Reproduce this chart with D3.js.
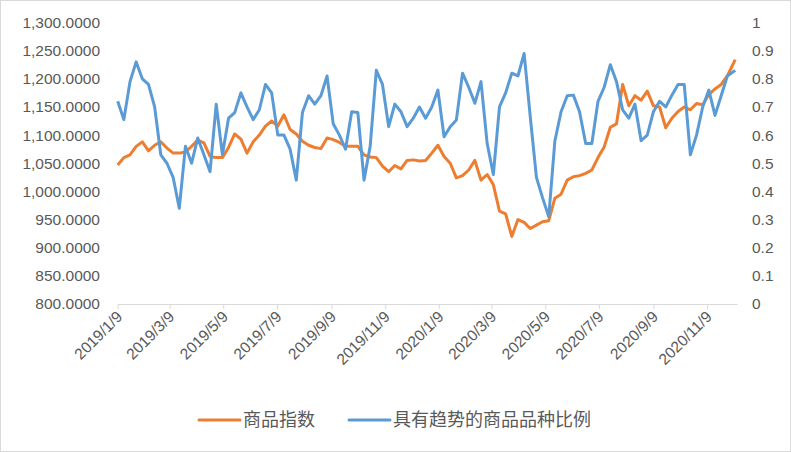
<!DOCTYPE html>
<html>
<head>
<meta charset="utf-8">
<script src="https://cdn.jsdelivr.net/npm/d3@7"></script>
<style>
  html, body { margin: 0; padding: 0; background: #fff; }
  svg { display: block; font-family: "DejaVu Sans", sans-serif; }
</style>
</head>
<body>
<svg width="791" height="452"></svg>
<script>
const width = 791, height = 452;
const svg = d3.select("svg");

// weekly readings
const dates = [
  "2019-01-09","2019-01-16","2019-01-23","2019-01-30","2019-02-06","2019-02-13","2019-02-20","2019-02-27",
  "2019-03-06","2019-03-13","2019-03-20","2019-03-27","2019-04-03","2019-04-10","2019-04-17","2019-04-24",
  "2019-05-01","2019-05-08","2019-05-15","2019-05-22","2019-05-29","2019-06-05","2019-06-12","2019-06-19",
  "2019-06-26","2019-07-03","2019-07-10","2019-07-17","2019-07-24","2019-07-31","2019-08-07","2019-08-14",
  "2019-08-21","2019-08-28","2019-09-04","2019-09-11","2019-09-18","2019-09-25","2019-10-02","2019-10-09",
  "2019-10-16","2019-10-23","2019-10-30","2019-11-06","2019-11-13","2019-11-20","2019-11-27","2019-12-04",
  "2019-12-11","2019-12-18","2019-12-25","2020-01-01","2020-01-08","2020-01-15","2020-01-22","2020-01-29",
  "2020-02-05","2020-02-12","2020-02-19","2020-02-26","2020-03-04","2020-03-11","2020-03-18","2020-03-25",
  "2020-04-01","2020-04-08","2020-04-15","2020-04-22","2020-04-29","2020-05-06","2020-05-13","2020-05-20",
  "2020-05-27","2020-06-03","2020-06-10","2020-06-17","2020-06-24","2020-07-01","2020-07-08","2020-07-15",
  "2020-07-22","2020-07-29","2020-08-05","2020-08-12","2020-08-19","2020-08-26","2020-09-02","2020-09-09",
  "2020-09-16","2020-09-23","2020-09-30","2020-10-07","2020-10-14","2020-10-21","2020-10-28","2020-11-04",
  "2020-11-11","2020-11-18","2020-11-25","2020-12-02","2020-12-11"
];

// 商品指数 (left axis)
const indexValues = [
  1047,1060,1065,1080,1088,1072,1082,1088,1077,1068,1068,1070,1080,1091,1086,1062,
  1060,1060,1078,1102,1093,1068,1088,1100,1116,1125,1116,1136,1110,1102,1089,1082,
  1078,1076,1095,1092,1087,1080,1080,1080,1065,1061,1060,1045,1035,1046,1040,1055,
  1056,1054,1055,1068,1082,1062,1050,1024,1028,1038,1055,1020,1030,1012,965,960,
  920,950,945,934,940,946,948,988,995,1020,1026,1028,1032,1038,1060,1079,
  1114,1120,1190,1152,1170,1162,1178,1152,1150,1113,1130,1142,1150,1145,1156,1154,
  1172,1182,1190,1205,1234
];

// 具有趋势的商品品种比例 (right axis)
const trendRatio = [
  0.72,0.655,0.79,0.86,0.80,0.78,0.70,0.53,0.50,0.45,0.34,0.56,0.50,0.59,0.53,0.47,
  0.71,0.53,0.66,0.68,0.75,0.70,0.655,0.69,0.78,0.75,0.60,0.60,0.55,0.44,0.68,0.74,
  0.71,0.74,0.81,0.64,0.60,0.55,0.683,0.68,0.44,0.56,0.83,0.78,0.63,0.71,0.683,0.63,
  0.66,0.70,0.66,0.70,0.76,0.594,0.63,0.654,0.82,0.77,0.713,0.79,0.57,0.46,0.70,0.75,
  0.82,0.81,0.89,0.665,0.45,0.377,0.31,0.58,0.683,0.74,0.742,0.683,0.57,0.57,0.72,0.77,
  0.85,0.79,0.69,0.66,0.71,0.58,0.60,0.683,0.72,0.70,0.742,0.78,0.78,0.53,0.60,0.70,
  0.76,0.67,0.74,0.81,0.83
];

const xTicks = ["2019-01-09","2019-03-09","2019-05-09","2019-07-09","2019-09-09","2019-11-09",
                "2020-01-09","2020-03-09","2020-05-09","2020-07-09","2020-09-09","2020-11-09"];
const leftTicks = [800, 850, 900, 950, 1000, 1050, 1100, 1150, 1200, 1250, 1300];
const rightTicks = [0, 0.1, 0.2, 0.3, 0.4, 0.5, 0.6, 0.7, 0.8, 0.9, 1];

const seriesNames = ["商品指数", "具有趋势的商品品种比例"];
const colors = ["#ED7D31", "#5B9BD5"];

const parse = d3.utcParse("%Y-%m-%d");
const fmtTick = d => `${d.getUTCFullYear()}/${d.getUTCMonth() + 1}/${d.getUTCDate()}`;

const plot = { left: 117.7, right: 737, top: 22.5, bottom: 304 };

const xScale = d3.scaleUtc().domain([parse("2019-01-09"), parse("2020-12-13")]).range([plot.left, plot.right]);
const yLeft = d3.scaleLinear().domain([800, 1300]).range([plot.bottom, plot.top]);
const yRight = d3.scaleLinear().domain([0, 1]).range([plot.bottom, plot.top]);

// border
svg.append("rect").attr("x", 0.5).attr("y", 0.5).attr("width", width - 1).attr("height", height - 1)
    .attr("fill", "#fff").attr("stroke", "#d9d9d9");

// axes
const xAxis = svg.append("g").attr("transform", `translate(0,${plot.bottom})`)
    .call(d3.axisBottom(xScale).tickValues(xTicks.map(parse)).tickFormat(fmtTick).tickSize(5).tickSizeOuter(0));
xAxis.selectAll("path, line").attr("stroke", "#d9d9d9");
xAxis.selectAll("text")
    .attr("x", -6).attr("y", 8).attr("dy", "0.35em")
    .attr("transform", "rotate(-45)")
    .style("text-anchor", "end").style("font-size", "15.5px").attr("fill", "#595959");

const leftAxis = svg.append("g").attr("transform", `translate(100,0)`)
    .call(d3.axisLeft(yLeft).tickValues(leftTicks).tickFormat(d3.format(",.4f")).tickSize(0).tickPadding(0));
leftAxis.select(".domain").remove();
leftAxis.selectAll("text").style("font-size", "15.5px").attr("fill", "#595959");

const rightAxis = svg.append("g").attr("transform", `translate(752,0)`)
    .call(d3.axisRight(yRight).tickValues(rightTicks).tickFormat(d => String(d)).tickSize(0).tickPadding(0));
rightAxis.select(".domain").remove();
rightAxis.selectAll("text").style("font-size", "15.5px").attr("fill", "#595959");

// lines
const lineLeft = d3.line().x((d, i) => xScale(parse(dates[i]))).y(d => yLeft(d));
const lineRight = d3.line().x((d, i) => xScale(parse(dates[i]))).y(d => yRight(d));

svg.append("path").datum(indexValues).attr("fill", "none").attr("stroke", colors[0])
    .attr("stroke-width", 3).attr("stroke-linejoin", "round").attr("d", lineLeft);
svg.append("path").datum(trendRatio).attr("fill", "none").attr("stroke", colors[1])
    .attr("stroke-width", 3).attr("stroke-linejoin", "round").attr("d", lineRight);

// legend
const legendX = [199, 349];
const legend = svg.selectAll(".legend").data(seriesNames).enter().append("g")
    .attr("class", "legend").attr("transform", (d, i) => `translate(${legendX[i]},420)`);
legend.append("line").attr("x1", 0).attr("x2", 41).attr("y1", 0).attr("y2", 0)
    .attr("stroke", (d, i) => colors[i]).attr("stroke-width", 3).attr("stroke-linecap", "round");
legend.append("text").attr("x", 44).attr("y", 0).attr("dy", "0.35em")
    .style("font-family", "'Noto Sans CJK SC', sans-serif").style("font-size", "18px")
    .attr("fill", "#595959").text(d => d);
</script>
</body>
</html>
